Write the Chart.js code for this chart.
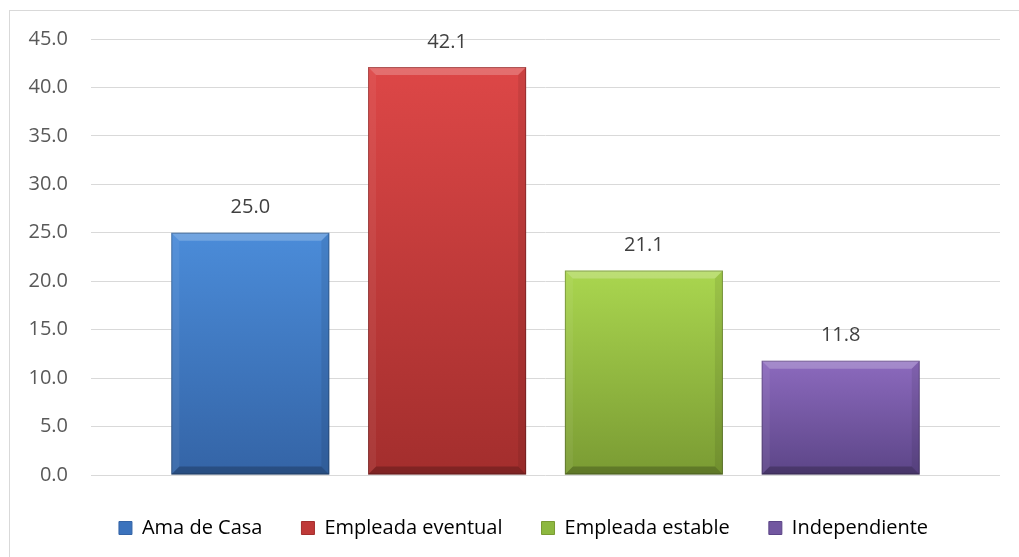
<!DOCTYPE html>
<html>
<head>
<meta charset="utf-8">
<script src="https://cdn.jsdelivr.net/npm/chart.js@4/dist/chart.umd.min.js"></script>
<style>
    html, body { margin: 0; padding: 0; background: #fff; overflow: hidden; }
    #wrap {
        position: absolute; left: 9px; top: 10px;
        width: 1027px; height: 560px;
        border: 1px solid #d9d9d9; background: #fff;
    }
</style>
</head>
<body>
<div id="wrap"><canvas id="ocupacion"></canvas></div>
<script>
const categories = ['Ama de Casa', 'Empleada eventual', 'Empleada estable', 'Independiente'];
const values = [25.0, 42.1, 21.1, 11.8];
const topColors = ['#4b8cd9', '#dd4747', '#aad64f', '#8c6abe'];
const bottomColors = ['#3464a6', '#a32e2d', '#7a9b33', '#5c4587'];
const legendColors = ['#3b73bd', '#bf3938', '#8db83f', '#7257a0'];
const yMax = 45;
const yStep = 5;

const FONT = '"Open Sans", "DejaVu Sans", sans-serif';

// vertical gradient per bar, from its own top to the zero line
function barFill(i) {
    return (ctx) => {
        const chart = ctx.chart;
        if (ctx.type !== 'data' || !chart.chartArea) return bottomColors[i];
        const y = chart.scales.y;
        const top = y.getPixelForValue(ctx.raw);
        const base = y.getPixelForValue(0);
        const g = chart.ctx.createLinearGradient(0, top, 0, base);
        g.addColorStop(0, topColors[i]);
        g.addColorStop(1, bottomColors[i]);
        return g;
    };
}

const bevel = {
    id: 'bevel',
    afterDatasetsDraw(chart) {
        const c = chart.ctx;
        chart.data.datasets.forEach((ds, i) => {
            chart.getDatasetMeta(i).data.forEach((bar) => {
                const l = bar.x - bar.width / 2, r = bar.x + bar.width / 2;
                const t = bar.y, b = bar.base, e = 8;
                c.save();
                c.fillStyle = 'rgba(255,255,255,0.22)';
                c.beginPath(); c.moveTo(l, t); c.lineTo(r, t); c.lineTo(r - e, t + e); c.lineTo(l + e, t + e); c.closePath(); c.fill();
                c.fillStyle = 'rgba(0,0,0,0.22)';
                c.beginPath(); c.moveTo(l, b); c.lineTo(r, b); c.lineTo(r - e, b - e); c.lineTo(l + e, b - e); c.closePath(); c.fill();
                c.fillStyle = 'rgba(0,0,0,0.08)';
                c.beginPath(); c.moveTo(r, t); c.lineTo(r, b); c.lineTo(r - e, b - e); c.lineTo(r - e, t + e); c.closePath(); c.fill();
                c.fillStyle = 'rgba(255,255,255,0.06)';
                c.beginPath(); c.moveTo(l, t); c.lineTo(l, b); c.lineTo(l + e, b - e); c.lineTo(l + e, t + e); c.closePath(); c.fill();
                c.strokeStyle = 'rgba(0,0,0,0.25)';
                c.lineWidth = 1;
                c.strokeRect(l + 0.5, t + 0.5, bar.width - 1, b - t - 1);
                c.restore();
            });
        });
    }
};

const valueLabels = {
    id: 'valueLabels',
    afterDatasetsDraw(chart) {
        const c = chart.ctx;
        c.save();
        c.font = '20px ' + FONT;
        c.fillStyle = '#404040';
        c.textAlign = 'center';
        c.textBaseline = 'middle';
        chart.data.datasets.forEach((ds, i) => {
            chart.getDatasetMeta(i).data.forEach((bar, j) => {
                c.fillText(ds.data[j].toFixed(1), bar.x, bar.y - 25);
            });
        });
        c.restore();
    }
};

const datasets = categories.map((name, i) => ({
    label: name,
    data: [values[i]],
    backgroundColor: barFill(i),
    borderWidth: 0,
    categoryPercentage: 0.866,
    barPercentage: 0.803
}));

new Chart(document.getElementById('ocupacion'), {
    type: 'bar',
    data: { labels: [''], datasets: datasets },
    plugins: [bevel, valueLabels],
    options: {
        responsive: true,
        maintainAspectRatio: false,
        animation: false,
        layout: { padding: { top: 28, left: 0, right: 0, bottom: 23 } },
        plugins: {
            tooltip: { enabled: false },
            legend: {
                position: 'bottom',
                labels: {
                    boxWidth: 13,
                    boxHeight: 13,
                    padding: 39,
                    color: '#595959',
                    font: { family: FONT, size: 20 },
                    generateLabels: (chart) => chart.data.datasets.map((ds, i) => ({
                        text: ds.label,
                        fillStyle: legendColors[i],
                        strokeStyle: bottomColors[i],
                        lineWidth: 1,
                        datasetIndex: i
                    }))
                }
            }
        },
        scales: {
            x: {
                ticks: { display: false },
                grid: { display: false },
                border: { display: false },
                afterFit: (s) => { s.height = 4; }
            },
            y: {
                min: 0,
                max: yMax,
                ticks: {
                    stepSize: yStep,
                    padding: 0,
                    color: '#595959',
                    font: { family: FONT, size: 20 },
                    callback: (v) => v.toFixed(1)
                },
                grid: { color: '#d9d9d9', lineWidth: 1, drawTicks: true, tickLength: 23, tickColor: 'rgba(0,0,0,0)' },
                border: { display: false },
                afterFit: (s) => { s.width = 81; }
            },
            y2: {
                position: 'right',
                ticks: { display: false },
                grid: { display: false },
                border: { display: false },
                afterFit: (s) => { s.width = 37; }
            }
        }
    }
});
</script>
</body>
</html>
